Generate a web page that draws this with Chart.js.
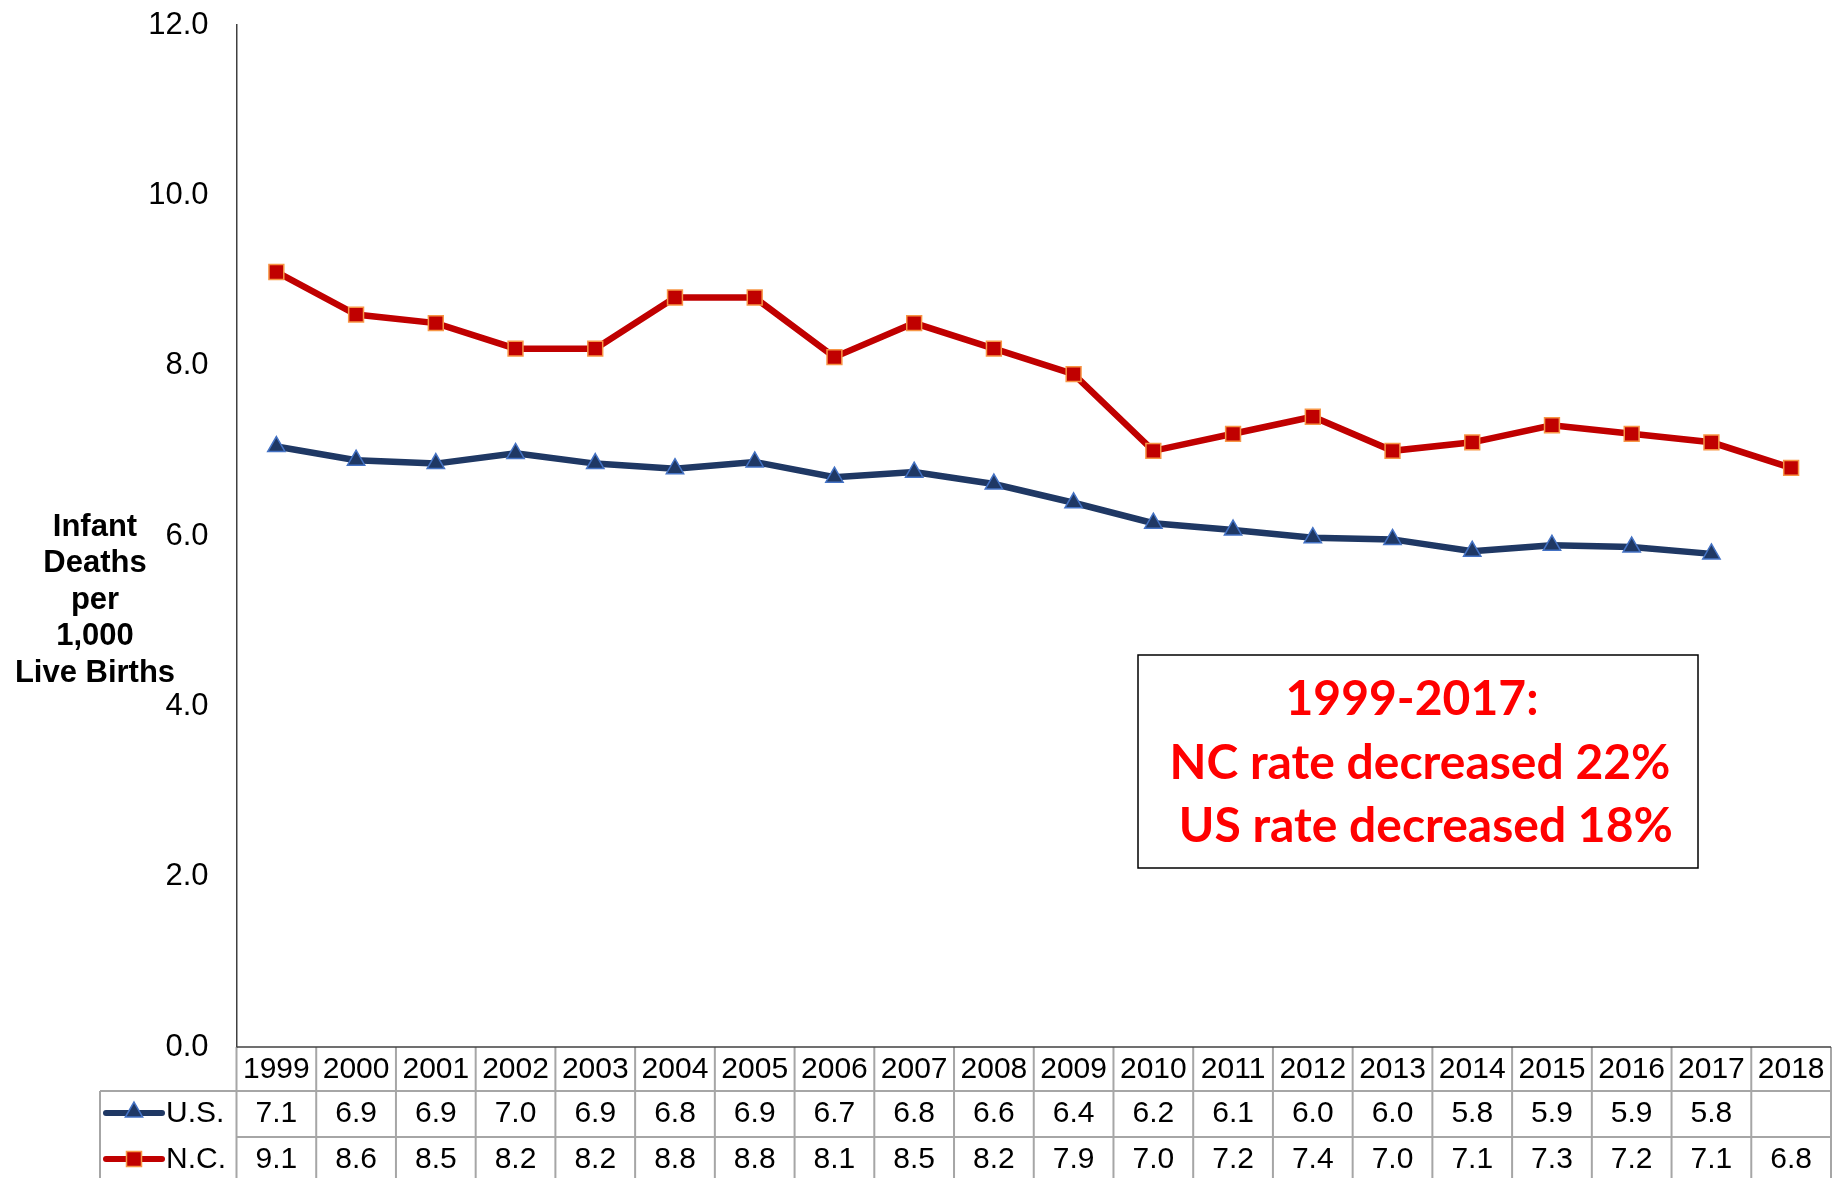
<!DOCTYPE html>
<html>
<head>
<meta charset="utf-8">
<script src="https://cdn.jsdelivr.net/npm/chart.js@4.4.1/dist/chart.umd.min.js"></script>
<style>
  html, body { margin: 0; padding: 0; background: #fff; }
  canvas { display: block; }
</style>
</head>
<body>
<canvas id="myChart" width="1843" height="1178"></canvas>
<script>
// data
const years = ['1999','2000','2001','2002','2003','2004','2005','2006','2007','2008',
               '2009','2010','2011','2012','2013','2014','2015','2016','2017','2018'];
const usRate = [7.05, 6.89, 6.85, 6.97, 6.85, 6.79, 6.87, 6.69, 6.75, 6.61,
                6.39, 6.15, 6.07, 5.98, 5.96, 5.82, 5.89, 5.87, 5.79, null];
const ncRate = [9.1, 8.6, 8.5, 8.2, 8.2, 8.8, 8.8, 8.1, 8.5, 8.2,
                7.9, 7.0, 7.2, 7.4, 7.0, 7.1, 7.3, 7.2, 7.1, 6.8];
// values as printed in the data table
const usTable = ['7.1','6.9','6.9','7.0','6.9','6.8','6.9','6.7','6.8','6.6',
                 '6.4','6.2','6.1','6.0','6.0','5.8','5.9','5.9','5.8',''];
const ncTable = ['9.1','8.6','8.5','8.2','8.2','8.8','8.8','8.1','8.5','8.2',
                 '7.9','7.0','7.2','7.4','7.0','7.1','7.3','7.2','7.1','6.8'];
const seriesNames = ['U.S.', 'N.C.'];
const yTitle = ['Infant', 'Deaths', 'per', '1,000', 'Live Births'];
const noteLines = ['1999-2017:', 'NC rate decreased 22%', ' US rate decreased 18%'];

const US_LINE = '#1f3864', US_EDGE = '#4472c4';
const NC_LINE = '#c00000', NC_EDGE = '#f79646';
const FONT = '"Liberation Sans", Arial, sans-serif';

function drawTri(ctx, x, y, r) {
  ctx.beginPath();
  ctx.moveTo(x, y - r);
  ctx.lineTo(x + r * 0.866, y + r * 0.5);
  ctx.lineTo(x - r * 0.866, y + r * 0.5);
  ctx.closePath();
  ctx.fillStyle = US_LINE; ctx.fill();
  ctx.lineWidth = 1.5; ctx.strokeStyle = US_EDGE; ctx.stroke();
}
function drawSq(ctx, x, y, s) {
  ctx.fillStyle = NC_LINE;
  ctx.fillRect(x - s / 2, y - s / 2, s, s);
  ctx.lineWidth = 1.5; ctx.strokeStyle = NC_EDGE;
  ctx.strokeRect(x - s / 2, y - s / 2, s, s);
}

const extras = {
  id: 'extras',
  afterDraw(chart) {
    const ctx = chart.ctx;
    const xs = chart.scales.x;
    const area = chart.chartArea;
    const colW = (area.right - area.left) / years.length;
    const rows = [area.bottom, area.bottom + 44, area.bottom + 90, area.bottom + 136];
    const labelLeft = 100;

    ctx.save();
    // table grid
    ctx.strokeStyle = '#a6a6a6';
    ctx.lineWidth = 2;
    ctx.beginPath();
    for (let r = 1; r < rows.length; r++) {
      ctx.moveTo(r === 1 ? labelLeft : area.left, rows[r]);
      ctx.lineTo(area.right, rows[r]);
    }
    for (let i = 0; i <= years.length; i++) {
      const x = area.left + i * colW;
      ctx.moveTo(x, rows[0]); ctx.lineTo(x, rows[3]);
    }
    ctx.moveTo(labelLeft, rows[1]); ctx.lineTo(labelLeft, rows[3]);
    ctx.stroke();
    // x axis line over the table top
    ctx.strokeStyle = '#404040';
    ctx.lineWidth = 1.5;
    ctx.beginPath();
    ctx.moveTo(area.left, area.bottom); ctx.lineTo(area.right, area.bottom);
    ctx.stroke();

    // table text
    ctx.fillStyle = '#000';
    ctx.font = '30px ' + FONT;
    ctx.textAlign = 'center';
    ctx.textBaseline = 'middle';
    years.forEach((y, i) => {
      const cx = xs.getPixelForValue(i);
      ctx.fillText(y, cx, rows[0] + 23);
      ctx.fillText(usTable[i], cx, rows[1] + 23);
      ctx.fillText(ncTable[i], cx, rows[2] + 23);
    });
    // legend keys in the row headers
    ctx.textAlign = 'left';
    [[US_LINE, rows[1] + 22], [NC_LINE, rows[2] + 22]].forEach(([c, y], k) => {
      ctx.strokeStyle = c; ctx.lineWidth = 6; ctx.lineCap = 'round';
      ctx.beginPath(); ctx.moveTo(106, y); ctx.lineTo(162, y); ctx.stroke();
      if (k === 0) drawTri(ctx, 134, y - 1, 10); else drawSq(ctx, 134, y, 15);
      ctx.fillStyle = '#000';
      ctx.fillText(seriesNames[k], 166, y + 1);
    });

    // y axis title
    ctx.font = 'bold 31px ' + FONT;
    ctx.textAlign = 'center';
    yTitle.forEach((t, i) => ctx.fillText(t, 95, 527 + i * 36.5));

    // note box
    ctx.fillStyle = '#fff';
    ctx.fillRect(1138, 655, 560, 213);
    ctx.strokeStyle = '#000'; ctx.lineWidth = 1.5;
    ctx.strokeRect(1138, 655, 560, 213);
    ctx.fillStyle = '#ff0000';
    ctx.font = 'bold 48px Lato, "Open Sans", sans-serif';
    ctx.fillText(noteLines[0], 1412, 700);
    ctx.fillText(noteLines[1], 1420, 764);
    ctx.fillText(noteLines[2], 1420, 827);
    ctx.restore();
  }
};

const chart = new Chart(document.getElementById('myChart'), {
  type: 'line',
  data: {
    labels: years,
    datasets: [
      {
        label: seriesNames[0],
        data: usRate,
        borderColor: US_LINE,
        borderWidth: 6.5,
        pointStyle: 'triangle',
        pointRadius: 10,
        pointBackgroundColor: US_LINE,
        pointBorderColor: US_EDGE,
        pointBorderWidth: 1.5,
        tension: 0,
      },
      {
        label: seriesNames[1],
        data: ncRate,
        borderColor: NC_LINE,
        borderWidth: 6.5,
        pointStyle: 'rect',
        pointRadius: 10.5,
        pointBackgroundColor: NC_LINE,
        pointBorderColor: NC_EDGE,
        pointBorderWidth: 1.5,
        tension: 0,
      },
    ],
  },
  options: {
    responsive: false,
    animation: false,
    devicePixelRatio: 1,
    layout: { padding: { top: 25, bottom: 131, left: 0, right: 2 } },
    plugins: { legend: { display: false }, tooltip: { enabled: false } },
    scales: {
      x: {
        offset: true,
        grid: { display: false },
        ticks: { display: false },
        border: { display: false },
        afterFit: s => { s.height = 0; s.paddingLeft = 0; s.paddingRight = 0; },
      },
      y: {
        min: 0,
        max: 12,
        ticks: {
          stepSize: 2,
          padding: 28,
          color: '#000',
          font: { family: FONT, size: 31 },
          callback: v => v.toFixed(1),
        },
        grid: { display: false, drawTicks: false },
        border: { display: true, color: '#404040', width: 1.5 },
        afterFit: s => { s.width = 236.5; s.paddingTop = 0; s.paddingBottom = 0; },
      },
    },
  },
  plugins: [extras],
});
</script>
</body>
</html>
